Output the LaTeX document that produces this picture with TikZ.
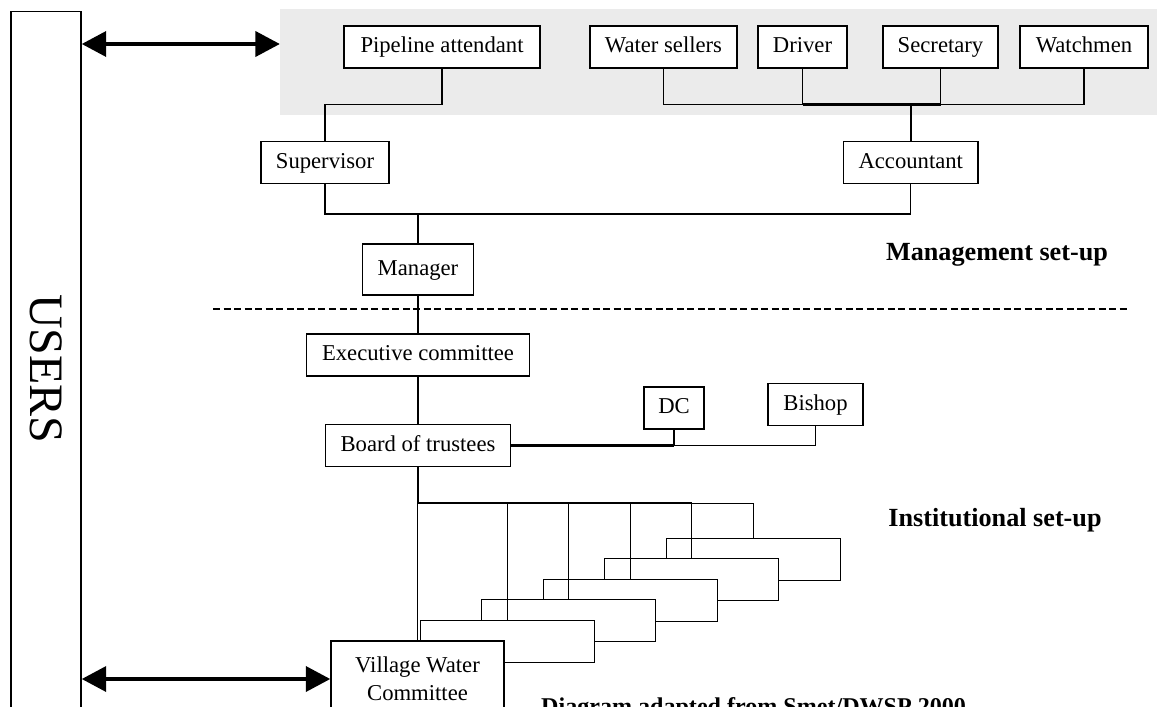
\documentclass[tikz,border=0pt]{standalone}
\usepackage{fontspec}
\setmainfont{Liberation Serif}
\usetikzlibrary{calc,math,positioning,arrows.meta}

\tikzset{
  post/.style={rectangle,draw=black,line width=0.7pt,fill=white,inner sep=0pt,minimum height=0.84cm,text height=0.66em,text depth=0pt,font=\fontsize{12.9}{15.9}\selectfont},
  wire/.style={line width=0.7pt},
  wirethick/.style={line width=1.2pt},
  twoway/.style={line width=2.8pt,{Triangle[length=14pt,width=14pt]}-{Triangle[length=14pt,width=14pt]}},
  setup/.style={font=\fontsize{14.9}{17}\selectfont\bfseries},
}

\begin{document}
\begin{tikzpicture}[x=0.02cm,y=-0.02cm]

  \useasboundingbox (0,0) rectangle (1165,706);
  \clip (0,0) rectangle (1165,706);

  %% staff band
  \fill[black!8] (280,9) rectangle (1157,115);

  \node (users) [rectangle,draw=black,line width=0.7pt,minimum width=1.4cm,minimum height=15cm,anchor=north] at(46,11) {};
  \node (users_text) [rotate=-90,font=\fontsize{27.3}{30}\selectfont] at(46,369) {USERS};

  %% staff
  \node (pipeline) [post,minimum width=3.92cm] at(442,47) {Pipeline attendant};
  \node (sellers) [post,minimum width=2.94cm] at(663.5,47) {Water sellers};
  \node (driver) [post,minimum width=1.78cm] at(802.5,47) {Driver};
  \node (secretary) [post,minimum width=2.3cm] at(940.5,47) {Secretary};
  \node (watchmen) [post,minimum width=2.56cm] at(1084,47) {Watchmen};

  \node (supervisor) [post,minimum width=2.56cm] at(325,162.5) {Supervisor};
  \node (accountant) [post,minimum width=2.69cm] at(910.75,162.5) {Accountant};
  \node (manager) [post,minimum width=2.22cm,minimum height=1.02cm] at(418,269.5) {Manager};
  \node (executive) [post,minimum width=4.46cm] at(418,355) {Executive committee};
  \node (board) [post,minimum width=3.7cm] at(418,445.5) {Board of trustees};
  \node (dc) [post,minimum width=1.2cm] at(674,408) {DC};
  \node (bishop) [post,minimum width=1.9cm] at(815.5,404.5) {Bishop};

  \coordinate (bus_staff) at(0,104.5);
  \coordinate (bus_heads) at(0,214);
  \coordinate (bus_vwc) at(0,503.3);

  \draw[wire] (pipeline.south) |- (supervisor.north |- bus_staff) -- (supervisor.north);
  \draw[wire] (sellers.south) |- (watchmen.south |- bus_staff) -- (watchmen.south);
  \draw[wire] (driver.south) -- (driver.south |- bus_staff);
  \draw[wire] (secretary.south) -- (secretary.south |- bus_staff);
  \draw[wirethick] (driver.south |- bus_staff) -- (secretary.south |- bus_staff);
  \draw[wirethick] (accountant.north |- bus_staff) -- (accountant.north);

  \draw[wire] (supervisor.south) |- (accountant.south |- bus_heads) -- (accountant.south);
  \draw[wire] (manager.north |- bus_heads) -- (manager.north);
  \draw[wire] (manager.south) -- (executive.north);
  \draw[wire] (executive.south) -- (board.north);

  \draw[wirethick] (board.east) -- (board.east -| dc.south);
  \draw[wire] (dc.south) -- (board.east -| dc.south) -- (board.east -| bishop.south) -- (bishop.south);

  %% separator
  \draw[wire,dash pattern=on 4pt off 2pt] (213,309) -- (1130,309);

  %% village committees, back to front
  \foreach \k in {5,4,3,2,1}
           {
             \tikzmath{
               \cx = 507.2 + (\k-1)*61.55;
               \cy = 641.3 - (\k-1)*20.5;
             }
             \node (committee_\k) [post,minimum width=3.48cm] at(\cx,\cy) {};
             \draw[wire] (committee_\k.north |- bus_vwc) -- (committee_\k.north);
           }

  \draw[wirethick] (board.south) |- (committee_4.north |- bus_vwc);
  \draw[wire] (committee_4.north |- bus_vwc) -- (committee_5.north |- bus_vwc);

  \node (vwc) [post,minimum width=3.46cm,minimum height=1.52cm,text height=,text depth=,align=center] at(417.5,679) {Village Water\\Committee};
  \draw[wire] (vwc.north |- bus_vwc) -- (vwc.north);

  %% links to users
  \coordinate (band_w) at(280,44);
  \draw[twoway] (users.east |- band_w) -- (band_w);
  \draw[twoway] (users.east |- vwc.west) -- (vwc.west);

  \node (management) [setup] at(997,255) {Management set-up};
  \node (institutional) [setup] at(995,520) {Institutional set-up};
  \node (source) [anchor=base west,font=\fontsize{13.7}{16}\selectfont\bfseries] at(535,714) {Diagram adapted from Smet/DWSP 2000};

\end{tikzpicture}
\end{document}
